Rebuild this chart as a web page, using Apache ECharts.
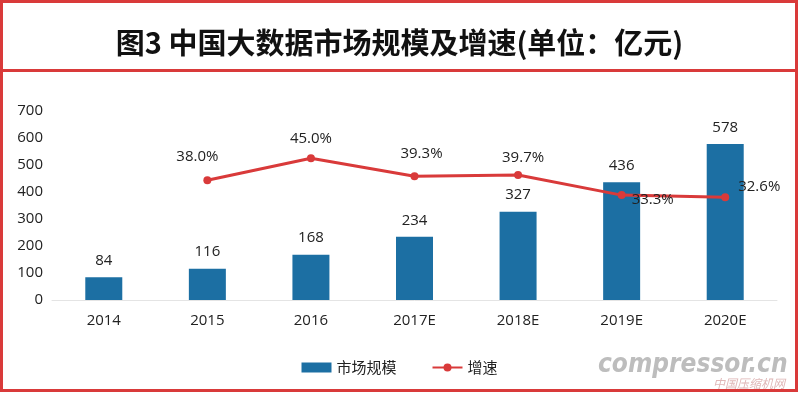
<!DOCTYPE html>
<html>
<head>
<meta charset="utf-8">
<script src="https://cdn.jsdelivr.net/npm/echarts@6/dist/echarts.min.js"></script>
<style>
html,body{margin:0;padding:0;background:#fff;}
#chart{width:799px;height:393px;}
</style>
</head>
<body>
<div id="chart"></div>
<script>
const titleText = '图3 中国大数据市场规模及增速(单位：亿元)';
const categories = ['2014', '2015', '2016', '2017E', '2018E', '2019E', '2020E'];
const marketSize = [84, 116, 168, 234, 327, 436, 578];
const growthRate = [null, 38.0, 45.0, 39.3, 39.7, 33.3, 32.6];
const yTicks = [0, 100, 200, 300, 400, 500, 600, 700];
const seriesNames = ['市场规模', '增速'];

const RED = '#d93a3a';
const BLUE = '#1c6fa3';
const NUMFONT = '"Open Sans", "Noto Sans", sans-serif';
const CJKFONT = '"Noto Sans CJK SC", sans-serif';

const lineLabelCfg = [
  null,
  {position: 'top', distance: 12, offset: [-10, 0]},
  {position: 'top', distance: 8, offset: [0, 0]},
  {position: 'top', distance: 11, offset: [7, 0]},
  {position: 'top', distance: 6, offset: [5, 0]},
  {position: 'right', distance: 6, offset: [0, 5]},
  {position: 'right', distance: 9, offset: [0, -11]}
];

const lineData = growthRate.map((v, i) => {
  if (v === null) return null;
  const c = lineLabelCfg[i];
  return {value: v, label: {position: c.position, distance: c.distance, offset: c.offset}};
});

const chart = echarts.init(document.getElementById('chart'), null, {renderer: 'canvas'});
chart.setOption({
  backgroundColor: '#fff',
  animation: false,
  title: {
    text: titleText,
    left: 'center',
    top: 23,
    textStyle: {fontFamily: CJKFONT, fontSize: 29, fontWeight: 'bold', color: '#111'}
  },
  grid: {left: 52, right: 22, top: 111, bottom: 93},
  legend: {
    top: 355,
    left: 'center',
    itemWidth: 30,
    itemHeight: 10,
    itemGap: 35,
    textStyle: {fontFamily: CJKFONT, fontSize: 15, color: '#222'},
    data: [{name: seriesNames[0], icon: 'rect'}, {name: seriesNames[1]}]
  },
  xAxis: {
    type: 'category',
    data: categories,
    axisTick: {show: false},
    axisLine: {show: true, lineStyle: {color: '#e4e4e4', width: 1}},
    axisLabel: {fontFamily: NUMFONT, fontSize: 15, color: '#222', margin: 13}
  },
  yAxis: [
    {
      type: 'value',
      min: yTicks[0],
      max: yTicks[yTicks.length - 1],
      interval: yTicks[1] - yTicks[0],
      axisLine: {show: false},
      axisTick: {show: false},
      splitLine: {show: false},
      axisLabel: {fontFamily: NUMFONT, fontSize: 15, color: '#222', margin: 9}
    },
    {
      type: 'value',
      min: 0,
      max: 60,
      show: false,
      splitLine: {show: false}
    }
  ],
  series: [
    {
      name: seriesNames[0],
      type: 'bar',
      data: marketSize,
      barWidth: 37,
      itemStyle: {color: BLUE},
      label: {
        show: true, position: 'top', distance: 9,
        fontFamily: NUMFONT, fontSize: 15, color: '#222'
      }
    },
    {
      name: seriesNames[1],
      type: 'line',
      yAxisIndex: 1,
      data: lineData,
      symbol: 'circle',
      symbolSize: 8,
      lineStyle: {color: RED, width: 3},
      itemStyle: {color: RED},
      label: {
        show: true,
        fontFamily: NUMFONT, fontSize: 15, color: '#222',
        formatter: p => p.value.toFixed(1) + '%'
      }
    }
  ],
  graphic: [
    {
      type: 'text', left: 598, top: 352, z: 1,
      style: {text: 'compressor.cn', fontFamily: '"DejaVu Sans Condensed", "DejaVu Sans", sans-serif', fontSize: 26, fontWeight: 'bold', fontStyle: 'italic', fill: '#bdbdbd'}
    },
    {
      type: 'text', left: 713, top: 377, z: 1,
      style: {text: '中国压缩机网', fontFamily: CJKFONT, fontSize: 12, fontStyle: 'italic', fill: '#e0b8b8'}
    },
    {
      type: 'rect', z: 100, silent: true,
      shape: {x: 1.5, y: 1.5, width: 795, height: 389},
      style: {fill: 'none', stroke: RED, lineWidth: 3}
    },
    {
      type: 'line', z: 100, silent: true,
      shape: {x1: 1, y1: 70.5, x2: 798, y2: 70.5},
      style: {stroke: RED, lineWidth: 3}
    }
  ]
});
</script>
</body>
</html>
